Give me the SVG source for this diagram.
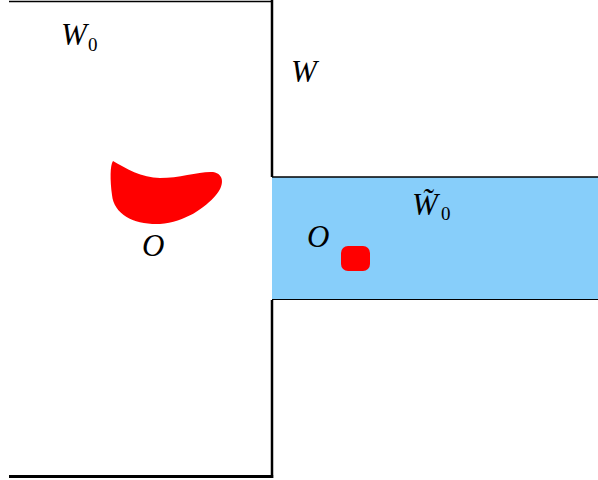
<svg xmlns="http://www.w3.org/2000/svg" width="598" height="480" viewBox="0 0 598 480">
<style>
.lbl{font-family:"Liberation Serif","DejaVu Serif",serif;font-style:italic;font-size:31px;fill:#000}
.sub{font-family:"Liberation Serif","DejaVu Serif",serif;font-size:19px;fill:#000}
.ln{stroke:#000;fill:none}
</style>
<rect x="0" y="0" width="598" height="480" fill="#fff"/>
<g id="W0">
<line class="ln" x1="9" y1="1.5" x2="272" y2="1.5" stroke-width="1.5" stroke="#222"/>
<line class="ln" x1="272" y1="0" x2="272" y2="177" stroke-width="2.5"/>
<line class="ln" x1="272" y1="300" x2="272" y2="478" stroke-width="2.5"/>
<line class="ln" x1="9" y1="476.5" x2="273.2" y2="476.5" stroke-width="3"/>
<text class="lbl" x="61" y="45">W</text><text class="sub" x="88" y="51">0</text>
<path d="M113,161 C125,168 142,178 160,178 C180,178 200,171 213,172 C225,174 224,186 216,195 C205,208 185,222 160,224 C135,225 114,215 112,195 C110,180 110,165 113,161 Z" fill="#ff0000"/>
<text class="lbl" x="142" y="256">O</text>
</g>
<g id="W">
<text class="lbl" x="291" y="82">W</text>
</g>
<g id="Wtilde0">
<rect x="272" y="177" width="326" height="123" fill="#87cefa"/>
<line class="ln" x1="272" y1="177" x2="598" y2="177" stroke-width="1.5" stroke="#222"/>
<line class="ln" x1="272" y1="299.5" x2="598" y2="299.5" stroke-width="1" stroke="#444"/>
<text class="lbl" x="412" y="215">W̃</text>
<text class="sub" x="441" y="220">0</text>
<rect x="341" y="246" width="29" height="25" rx="7" fill="#ff0000"/>
<text class="lbl" x="307" y="247">O</text>
</g>
</svg>
